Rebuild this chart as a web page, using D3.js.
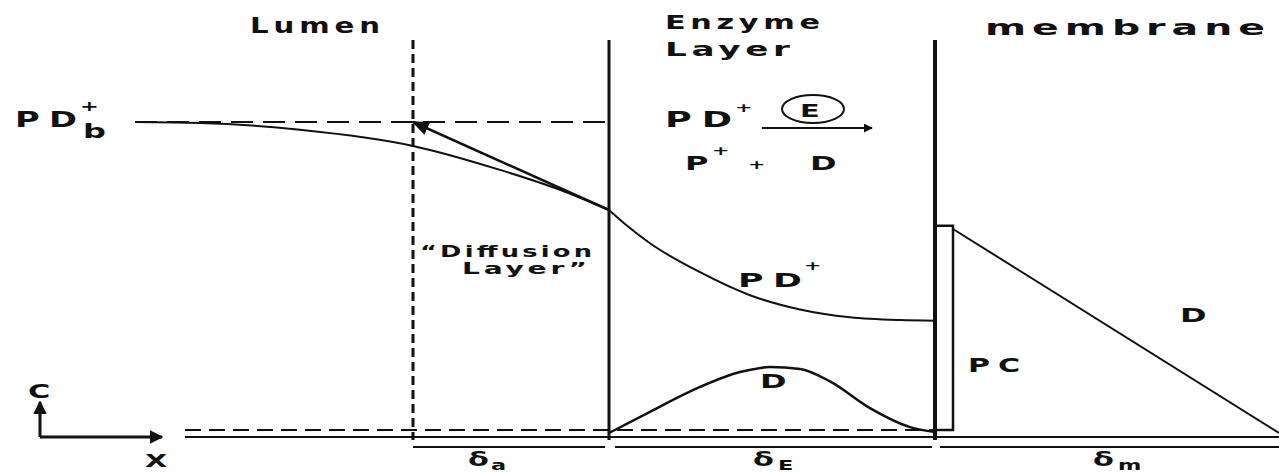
<!DOCTYPE html>
<html><head><meta charset="utf-8">
<script src="https://cdn.jsdelivr.net/npm/d3@7"></script>
<style>
html,body{margin:0;padding:0;background:#fff;}
svg{display:block;}
text{font-family:"DejaVu Sans",sans-serif;fill:#111;}
</style></head>
<body>
<svg id="c" width="1279" height="473"></svg>
<script>
// ---- data (x in distance units, y in relative concentration, PD_b = 1) ----
const boundaries = { lumenEdge: 41.3, enzymeStart: 60.9, enzymeEnd: 93.5, membraneEnd: 127.9 };
const pdLumen = [[13.5,1.0],[20,0.997],[30,0.975],[41.3,0.923],[50,0.846],[56,0.782],[60.9,0.717]];
const pdEnzyme = [[60.9,0.717],[62.5,0.672],[65,0.61],[70,0.517],[75,0.443],[80,0.397],[85,0.372],[90,0.363],[93.5,0.361]];
const dEnzyme = [[60.9,0.0],[65,0.068],[70,0.148],[74,0.196],[77,0.212],[80,0.206],[83,0.166],[87,0.08],[91,0.019],[93.5,0.003]];
const dMembrane = [[95.3,0.656],[127.9,0.0]];
const tangent = [[41.3,1.0],[60.9,0.717]];
const pcBox = { x0: 93.5, x1: 95.3, top: 0.666, bottom: 0.01 };
const bulkLevel = 1.0;
const baseDashed = 0.01, baseSolid = -0.013, bracketLevel = -0.045;
const regionTitles = ["Lumen", "Enzyme", "Layer", "membrane"];
const thicknessLabels = [["\u03B4","a"],["\u03B4","E"],["\u03B4","m"]];

// ---- scales ----
const x = d3.scaleLinear().domain([0, 127.9]).range([0, 1279]);
const y = d3.scaleLinear().domain([0, 1]).range([433, 122]);
const svg = d3.select("#c");
const line = d3.line().x(d => x(d[0])).y(d => y(d[1]));
const curve = d3.line().x(d => x(d[0])).y(d => y(d[1])).curve(d3.curveMonotoneX);

const defs = svg.append("defs");
defs.append("marker").attr("id","ah").attr("viewBox","0 0 10 10").attr("refX",9).attr("refY",5)
  .attr("markerWidth",7).attr("markerHeight",7).attr("orient","auto-start-reverse")
  .append("path").attr("d","M0,1 L10,5 L0,9 Z").attr("fill","#111");
defs.append("marker").attr("id","ahs").attr("viewBox","0 0 10 10").attr("refX",9).attr("refY",5)
  .attr("markerWidth",4.5).attr("markerHeight",4.5).attr("orient","auto-start-reverse")
  .append("path").attr("d","M0,0 L10,5 L0,10 Z").attr("fill","#111");

const g = svg.append("g");
const k = "#111";

// vertical boundaries
g.append("line").attr("x1",x(boundaries.lumenEdge)).attr("x2",x(boundaries.lumenEdge)).attr("y1",40).attr("y2",440)
  .attr("stroke",k).attr("stroke-width",3).attr("stroke-dasharray","9,5");
g.append("line").attr("x1",x(boundaries.enzymeStart)).attr("x2",x(boundaries.enzymeStart)).attr("y1",40).attr("y2",440)
  .attr("stroke",k).attr("stroke-width",3);
g.append("line").attr("x1",x(boundaries.enzymeEnd)).attr("x2",x(boundaries.enzymeEnd)).attr("y1",40).attr("y2",440)
  .attr("stroke",k).attr("stroke-width",4);

// bulk level dashed
g.append("line").attr("x1",x(13.5)).attr("x2",x(boundaries.enzymeStart)).attr("y1",y(bulkLevel)).attr("y2",y(bulkLevel))
  .attr("stroke",k).attr("stroke-width",2).attr("stroke-dasharray","22,10");

// baselines
g.append("line").attr("x1",x(18.5)).attr("x2",x(boundaries.enzymeEnd)).attr("y1",y(baseDashed)).attr("y2",y(baseDashed))
  .attr("stroke",k).attr("stroke-width",2).attr("stroke-dasharray","16,8");
g.append("line").attr("x1",x(18.5)).attr("x2",x(boundaries.membraneEnd)).attr("y1",y(baseSolid)).attr("y2",y(baseSolid))
  .attr("stroke",k).attr("stroke-width",2);
[[boundaries.lumenEdge, boundaries.enzymeStart-0.4],[boundaries.enzymeStart+0.6, boundaries.enzymeEnd-0.3],[boundaries.enzymeEnd+0.5, boundaries.membraneEnd]]
 .forEach(([a,b]) => {
   g.append("line").attr("x1",x(a)).attr("x2",x(b)).attr("y1",y(bracketLevel)).attr("y2",y(bracketLevel))
    .attr("stroke",k).attr("stroke-width",2);
 });

// curves
g.append("path").attr("d",curve(pdLumen)).attr("fill","none").attr("stroke",k).attr("stroke-width",2);
g.append("path").attr("d",curve(pdEnzyme)).attr("fill","none").attr("stroke",k).attr("stroke-width",2);
g.append("path").attr("d",curve(dEnzyme)).attr("fill","none").attr("stroke",k).attr("stroke-width",2.5);
g.append("path").attr("d",line(dMembrane)).attr("fill","none").attr("stroke",k).attr("stroke-width",2);
g.append("path").attr("d",line(tangent)).attr("fill","none").attr("stroke",k).attr("stroke-width",2.5)
  .attr("marker-start","url(#ah)");

// PC box
g.append("path").attr("d", `M${x(pcBox.x0)},${y(pcBox.top)} H${x(pcBox.x1)} V${y(pcBox.bottom)} H${x(pcBox.x0)}`)
  .attr("fill","none").attr("stroke",k).attr("stroke-width",2.5);

// axes arrows (C, X)
g.append("line").attr("x1",x(4)).attr("x2",x(4)).attr("y1",y(baseSolid)).attr("y2",y(0.1)).attr("stroke",k).attr("stroke-width",3).attr("marker-end","url(#ahs)");
g.append("line").attr("x1",x(4)).attr("x2",x(16.2)).attr("y1",y(baseSolid)).attr("y2",y(baseSolid)).attr("stroke",k).attr("stroke-width",3).attr("marker-end","url(#ahs)");

// reaction arrow + circled E
g.append("line").attr("x1",762).attr("x2",872).attr("y1",128).attr("y2",128).attr("stroke",k).attr("stroke-width",2).attr("marker-end","url(#ahs)");
g.append("ellipse").attr("cx",813).attr("cy",109).attr("rx",31).attr("ry",14).attr("fill","none").attr("stroke",k).attr("stroke-width",2);

// texts: (text, x, baseline, font size, target width); glyphs widened like the extended original lettering
const SX = 1.6;
const T = (t, px, py, size, w) => {
  const s = g.append("text").attr("font-size",size).attr("font-weight","bold").text(t);
  let sx = SX;
  if (w) {
    const nat = s.node().getComputedTextLength();
    sx = Math.min(2.0, Math.max(1.0, 0.85 * w / nat));
    s.attr("textLength", w / sx).attr("lengthAdjust","spacing");
  }
  s.attr("transform", `translate(${px},${py}) scale(${sx},1)`);
  return s;
};
T(regionTitles[0], 250, 33, 21, 130);
T(regionTitles[1], 665, 29, 20, 155);
T(regionTitles[2], 665, 56, 20, 125);
T(regionTitles[3], 985, 35, 21, 280);
// PD_b+
T("PD", 15, 127, 22, 62);
T("+", 80, 111, 14);
T("b", 83, 138, 20);
// reaction
T("PD", 665, 127, 21, 67);
T("+", 735, 112, 13);
T("E", 800, 117, 18);
T("P", 685, 170, 20);
T("+", 712, 155, 13);
T("+", 748, 169, 13);
T("D", 810, 170, 20);
// diffusion layer
T("\u201CDiffusion", 420, 257, 16, 172);
T("Layer\u201D", 462, 274, 16, 125);
// curve labels
T("PD", 738, 287, 20, 64);
T("+", 804, 270, 13);
T("D", 1180, 322, 20);
T("PC", 968, 372, 20, 52);
T("D", 760, 388, 20);
T("C", 28, 398, 19);
T("X", 145, 467, 18);
// thickness labels
[[468, 491],[753, 778],[1093, 1118]].forEach(([px, sx], i) => {
  T(thicknessLabels[i][0], px, 466, 19);
  T(thicknessLabels[i][1], sx, 470, 14);
});
</script>
</body></html>
